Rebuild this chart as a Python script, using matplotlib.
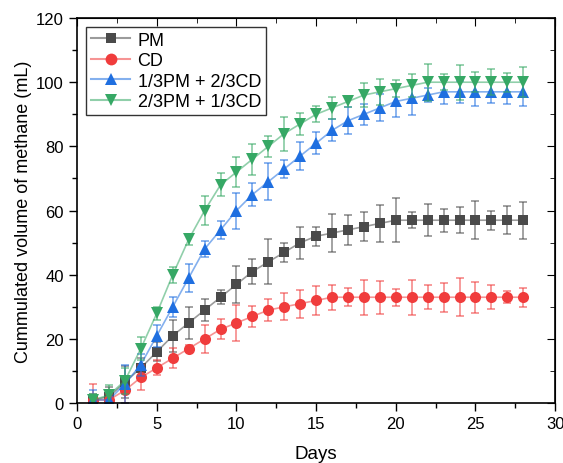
import matplotlib
matplotlib.use("Agg")
import matplotlib.pyplot as plt
import numpy as np
from matplotlib.lines import Line2D
from matplotlib.ticker import MultipleLocator

plt.rcParams["font.family"] = ["Liberation Sans", "DejaVu Sans"]

days = np.arange(1, 29)

pm = [1, 2, 6.5, 11, 16, 21, 25, 29, 33, 37, 41, 44, 47, 50, 52, 53, 54, 55, 56, 57,
      57, 57, 57, 57, 57, 57, 57, 57]
pm_err = [2, 3, 5, 3, 3, 5, 5, 3.4, 2.2, 5.8, 3.9, 7, 3, 5, 3, 6, 4.7, 4.6, 5.8, 6.8,
          2.5, 5, 3.6, 4.1, 6, 2.9, 4.4, 5.7]

cd = [1, 1, 4, 8, 11, 14, 17, 20, 23, 25, 27, 29, 30, 31, 32, 33, 33, 33, 33, 33,
      33, 33, 33, 33, 33, 33, 33, 33]
cd_err = [5, 2, 4, 3.9, 2.3, 3.1, 1, 4.3, 3.1, 5.6, 3.2, 3.5, 4.2, 4.4, 4.5, 3.9, 2.8,
          5.5, 5.1, 2.6, 5.5, 3.7, 4.5, 6, 4.8, 3.8, 1.8, 3]

mix13 = [1, 1, 6, 12, 21, 30, 39, 48, 54, 60, 65, 69, 73, 77, 81, 85, 88, 90, 92, 94,
         95, 96, 97, 97, 97, 97, 97, 97]
mix13_err = [3, 3, 6, 3.4, 3.5, 3.1, 4.5, 2.6, 2.8, 5.6, 3.7, 5.7, 2.7, 4.4, 3.4, 3.4,
             4.2, 3.3, 4.2, 4.7, 5.2, 2.3, 3.75, 3.5, 4.5, 3.6, 3.9, 4.3]

mix23 = [1, 2.5, 7, 17, 28, 40, 51, 60, 68, 72, 76, 80, 84, 87, 90, 92, 94, 96, 97, 98,
         99, 100, 100, 100, 100, 100, 100, 100]
mix23_err = [2, 3, 4, 3.6, 2, 2.5, 1.8, 4.4, 3.6, 4.6, 4.9, 3.3, 5.3, 3.5, 2.5, 3.5,
             1.8, 3.75, 4.1, 2.6, 3.5, 5.7, 2.5, 5.5, 3.1, 4, 3, 4.6]

series = [
    ("PM", pm, pm_err, "#4a4a4a", "s", 7),
    ("CD", cd, cd_err, "#f03c3c", "o", 8),
    ("1/3PM + 2/3CD", mix13, mix13_err, "#1f6fe0", "^", 8.5),
    ("2/3PM + 1/3CD", mix23, mix23_err, "#36a865", "v", 8.5),
]

fig, ax = plt.subplots(figsize=(5.63, 4.64), dpi=100)
fig.subplots_adjust(left=0.137, right=0.986, top=0.959, bottom=0.129)

handles, labels = [], []
for label, y, err, color, marker, ms in series:
    ax.errorbar(days, y, yerr=err, fmt="none", ecolor=color, alpha=0.6,
                elinewidth=1.2, capsize=3, capthick=1.2)
    ax.plot(days, y, color=color, alpha=0.55, linewidth=1.2)
    ax.plot(days, y, linestyle="none", marker=marker, markersize=ms,
            color=color, markeredgewidth=0)
    ln = Line2D([], [], color=color, alpha=0.55, linewidth=1.5)
    mk = Line2D([], [], color=color, marker=marker, markersize=ms + 0.5,
                linestyle="none", markeredgewidth=0)
    handles.append((ln, mk))
    labels.append(label)

leg = ax.legend(handles, labels, loc="upper left", fontsize=13, frameon=True,
                fancybox=False, edgecolor="black", borderpad=0.25,
                handlelength=2.2, handletextpad=0.4, labelspacing=0.2,
                borderaxespad=0.5)
leg.get_frame().set_linewidth(1.0)

ax.set_xlim(0, 30)
ax.set_ylim(0, 120)
ax.xaxis.set_major_locator(MultipleLocator(5))
ax.xaxis.set_minor_locator(MultipleLocator(2.5))
ax.yaxis.set_major_locator(MultipleLocator(20))
ax.yaxis.set_minor_locator(MultipleLocator(10))

ax.tick_params(which="both", direction="out", labelsize=12, width=1.0)
ax.tick_params(which="major", length=6)
ax.tick_params(which="minor", length=3.5)
ax.tick_params(axis="x", which="both", top=False)
ax.tick_params(axis="y", which="both", right=False)
sec_x = ax.secondary_xaxis("top")
sec_x.xaxis.set_major_locator(MultipleLocator(5))
sec_x.xaxis.set_minor_locator(MultipleLocator(2.5))
sec_x.tick_params(which="both", direction="in", labeltop=False)
sec_x.tick_params(which="major", length=6)
sec_x.tick_params(which="minor", length=3.5)
sec_y = ax.secondary_yaxis("right")
sec_y.yaxis.set_major_locator(MultipleLocator(20))
sec_y.yaxis.set_minor_locator(MultipleLocator(10))
sec_y.tick_params(which="both", direction="in", labelright=False)
sec_y.tick_params(which="major", length=6)
sec_y.tick_params(which="minor", length=3.5)

for s in ax.spines.values():
    s.set_linewidth(1.2)

ax.set_xlabel("Days", fontsize=13.5, labelpad=10)
ax.set_ylabel("Cummulated volume of methane (mL)", fontsize=13, labelpad=3)

fig.savefig("out.png", dpi=100)
